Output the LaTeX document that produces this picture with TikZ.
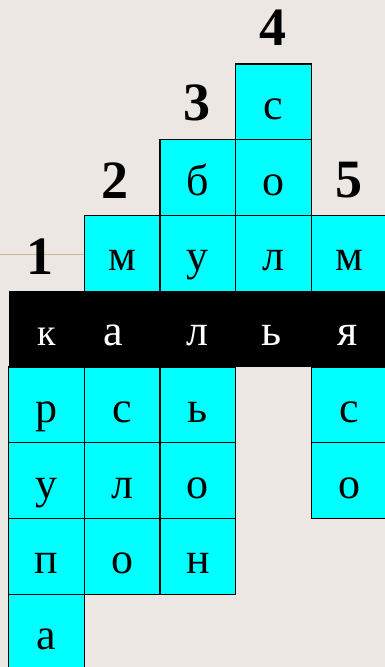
\documentclass[tikz,border=0pt]{standalone}
\usepackage{fontspec}
\setmainfont{Liberation Serif}
\definecolor{paper}{RGB}{236,231,226}
\definecolor{rule}{RGB}{200,185,138}
\definecolor{aqua}{RGB}{0,255,255}
\tikzset{
  cell/.style={draw=black, line width=1.4pt, fill=aqua, minimum size=75.75pt, inner sep=0pt, text height=35pt, text depth=0pt, font=\fontsize{44}{50}\selectfont},
  keyletter/.style={text=white, anchor=base, inner sep=0pt, font=\fontsize{44}{50}\selectfont},
  num/.style={inner sep=0pt, font=\fontsize{54}{60}\selectfont\bfseries}
}
\begin{document}
\begin{tikzpicture}[x=1pt, y=-1pt]
	\fill[paper] (0,0) rectangle (385,667);
	\useasboundingbox (0,0) rectangle (385,667);
	\draw[rule, line width=1.5pt] (0,254.5)--(84,254.5);
	\foreach \c/\r/\ch in {1/5/р, 1/6/у, 1/7/п, 1/8/а, 2/3/м, 2/5/с, 2/6/л, 2/7/о, 3/2/б, 3/3/у, 3/5/ь, 3/6/о, 3/7/н, 4/1/с, 4/2/о, 4/3/л, 5/3/м, 5/5/с, 5/6/о}
		\node[cell] (c\c\r) at ({8.5+75.75*(\c-0.5)},{64+75.75*(\r-0.5)}) {\ch};
	\fill[black] (8.5,291.25) rectangle (390,367);
	\node[keyletter, font=\fontsize{38}{44}\selectfont] (k1) at (47,345) {к};
	\node[keyletter] (k2) at (113,345) {а};
	\node[keyletter] (k3) at (197,345) {л};
	\node[keyletter] (k4) at (272,345) {ь};
	\node[keyletter] (k5) at (348,345) {я};
	\node[num] (n1) at (40,257) {1};
	\node[num] (n2) at (115,181) {2};
	\node[num] (n3) at (197,103) {3};
	\node[num] (n4) at (273,28) {4};
	\node[num] (n5) at (349,180) {5};
\end{tikzpicture}
\end{document}
